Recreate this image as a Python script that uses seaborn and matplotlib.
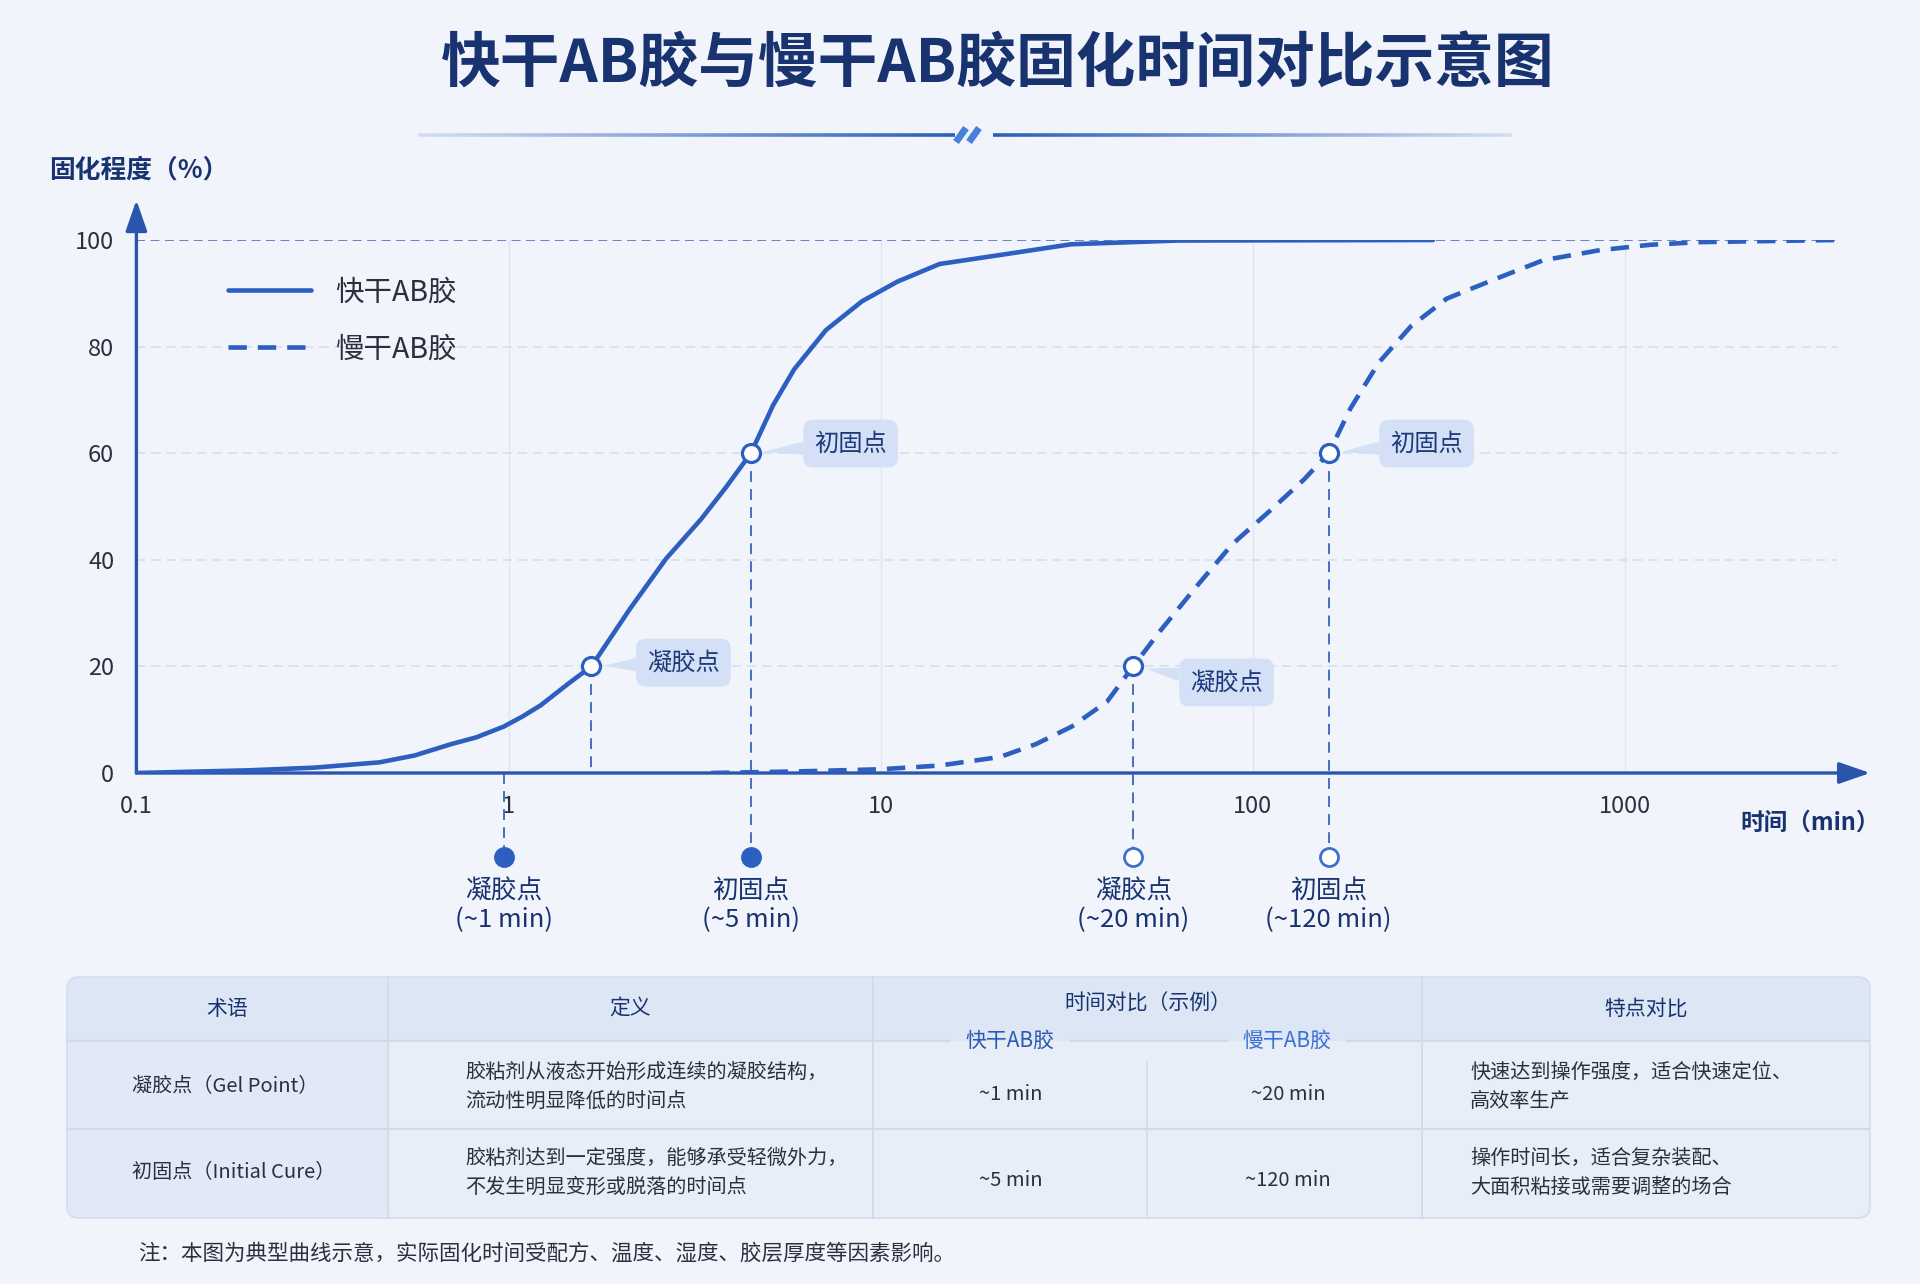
import numpy as np
import pandas as pd
import seaborn as sns
import matplotlib.pyplot as plt
from matplotlib.patches import FancyBboxPatch, Rectangle
from matplotlib.collections import LineCollection
from matplotlib.ticker import NullLocator

# ---- data ----
series_names = ['快干AB胶', '慢干AB胶']
fast_time = [0.1, 0.2, 0.3, 0.45, 0.56, 0.7, 0.82, 0.97, 1.09, 1.22, 1.45, 1.67, 2.12, 2.65,
             3.29, 3.84, 4.48, 5.14, 5.85, 7.13, 8.91, 11.1, 14.4, 21, 32.5, 63, 305]
fast_pct = [0, 0.5, 1.0, 2.0, 3.3, 5.4, 6.7, 8.7, 10.6, 12.7, 16.8, 20, 30.8, 40.2,
            47.6, 53.6, 60, 69, 75.7, 83.1, 88.5, 92.2, 95.5, 97.2, 99.2, 99.9, 100]
slow_time = [3.5, 6, 10, 14.4, 20.9, 26.1, 32.6, 40.6, 47.7, 56.6, 70.4, 88, 110, 137, 160,
             183, 218, 266, 332, 442, 603, 858, 1169, 1593, 3700]
slow_pct = [0, 0.3, 0.7, 1.4, 3.0, 5.4, 8.7, 13.4, 20, 26.8, 34.9, 42.9, 48.9, 55, 60,
            68.4, 77, 83.8, 89, 92.5, 96.2, 98.1, 99.1, 99.6, 100]

key_time = [1.67, 4.48, 47.7, 160]
key_pct = [20, 60, 20, 60]
key_labels = ['凝胶点', '初固点', '凝胶点', '初固点']
callout_time = [2.95, 8.3, 85, 293]
callout_pct = [20.7, 61.8, 17, 61.8]

axis_mark_time = [0.97, 4.48, 47.7, 160]
axis_mark_filled = [True, True, False, False]
axis_mark_text = ['凝胶点\n(~1 min)', '初固点\n(~5 min)', '凝胶点\n(~20 min)', '初固点\n(~120 min)']

x_ticks = [0.1, 1, 10, 100, 1000]
x_ticklabels = ['0.1', '1', '10', '100', '1000']
y_ticks = [0, 20, 40, 60, 80, 100]

table_header = ['术语', '定义', '时间对比（示例）', '特点对比']
table_sub = ['快干AB胶', '慢干AB胶']
table_terms = ['凝胶点（Gel Point）', '初固点（Initial Cure）']
table_defs = ['胶粘剂从液态开始形成连续的凝胶结构，\n流动性明显降低的时间点',
              '胶粘剂达到一定强度，能够承受轻微外力，\n不发生明显变形或脱落的时间点']
table_fast = ['~1 min', '~5 min']
table_slow = ['~20 min', '~120 min']
table_feat = ['快速达到操作强度，适合快速定位、\n高效率生产',
              '操作时间长，适合复杂装配、\n大面积粘接或需要调整的场合']
note = '注：本图为典型曲线示意，实际固化时间受配方、温度、湿度、胶层厚度等因素影响。'

# ---- style ----
sns.set_theme(style='white')
plt.rcParams['font.family'] = ['Noto Sans CJK SC', 'DejaVu Sans']
plt.rcParams['axes.unicode_minus'] = False

BLUE = '#2d5fc0'
NAVY = '#18336f'
DARK = '#2b2f40'
BG = '#f1f5fb'

fig = plt.figure(figsize=(19.2, 12.84), dpi=100, facecolor=BG)

# overlay axes in pixel coordinates for decorations
bg = fig.add_axes([0, 0, 1, 1], zorder=0)
bg.set_xlim(0, 1920)
bg.set_ylim(1284, 0)
bg.axis('off')

# title + decorative rule
bg.text(998, 66, '快干AB胶与慢干AB胶固化时间对比示意图', ha='center', va='center',
        fontsize=43, fontweight='bold', color=NAVY)
for x0, x1, rev in [(418, 955, False), (993, 1512, True)]:
    xs = np.linspace(x0, x1, 80)
    segs = [[(xs[i], 135), (xs[i + 1], 135)] for i in range(len(xs) - 1)]
    al = np.linspace(0.15, 1, len(segs))
    if rev:
        al = al[::-1]
    cols = [(0.17, 0.37, 0.75, a) for a in al]
    bg.add_collection(LineCollection(segs, colors=cols, linewidths=2.6))
for dx in (0, 13):
    bg.plot([956 + dx, 966 + dx], [142, 128], color='#4a80dc', lw=5, solid_capstyle='butt')

bg.text(49, 170, '固化程度（%）', ha='left', va='center', fontsize=18.5,
        fontweight='bold', color=NAVY)
bg.text(1810, 823, '时间（min）', ha='center', va='center', fontsize=17,
        fontweight='bold', color=NAVY)

# ---- main chart ----
ax = fig.add_axes([136.4 / 1920, 1 - 773 / 1284, 1700.6 / 1920, 533 / 1284], zorder=1)
ax.patch.set_visible(False)

df = pd.DataFrame({
    'time': fast_time + slow_time,
    'pct': fast_pct + slow_pct,
    'series': [series_names[0]] * len(fast_time) + [series_names[1]] * len(slow_time),
})
sns.lineplot(data=df, x='time', y='pct', hue='series', style='series',
             palette=[BLUE, BLUE], dashes={series_names[0]: '', series_names[1]: (4, 2.4)},
             linewidth=3.3, sort=False, estimator=None, legend=False, ax=ax, zorder=4)
for ln in ax.lines[:2]:
    ln.set_solid_joinstyle('round')
    ln.set_dash_joinstyle('round')
ax.set_xscale('log')
ax.set_xlim(0.1, 3715)
ax.set_ylim(0, 100)
for s in ax.spines.values():
    s.set_visible(False)

ax.set_xticks(x_ticks)
ax.set_xticklabels(x_ticklabels)
ax.xaxis.set_minor_locator(NullLocator())
ax.set_yticks(y_ticks)
ax.tick_params(axis='both', length=0, labelsize=17, labelcolor=DARK)
ax.tick_params(axis='x', pad=16)
ax.tick_params(axis='y', pad=16)
ax.set_xlabel('')
ax.set_ylabel('')

# grid
for y in y_ticks[1:-1]:
    ax.axhline(y, color='#d5dde9', lw=1.1, ls=(0, (6, 4)), zorder=1)
ax.axhline(100, color='#5a7cc0', lw=1.3, ls=(0, (5, 3)), zorder=1)
for x in x_ticks[1:] + [3715]:
    ax.axvline(x, color='#dfe5ef', lw=1.0, zorder=0)

# axes with arrows
arrow_kw = dict(arrowstyle='-|>,head_length=0.95,head_width=0.33', color='#2a55ad',
                lw=2.4, mutation_scale=20, shrinkA=0, shrinkB=0)
ax.annotate('', xy=(0.1, 107.5), xytext=(0.1, 0), xycoords='data',
            arrowprops=arrow_kw, annotation_clip=False, zorder=3)
ax.annotate('', xy=(4560, 0), xytext=(0.1, 0), xycoords='data',
            arrowprops=arrow_kw, annotation_clip=False, zorder=3)

MARK_Y = -15.8
LABEL_Y = -24.9

# dashed drop lines
for t, p in zip(key_time, key_pct):
    bottom = MARK_Y if t in axis_mark_time else 0
    ax.plot([t, t], [p, bottom], color='#3a64b8', lw=1.3, ls=(0, (6, 4)),
            clip_on=False, zorder=2)
for t in axis_mark_time:
    if t not in key_time:
        ax.plot([t, t], [0, MARK_Y], color='#3a64b8', lw=1.3, ls=(0, (6, 4)),
                clip_on=False, zorder=2)

# key points and callouts
ax.plot(key_time, key_pct, 'o', ms=13, mfc='white', mec=BLUE, mew=2.3, zorder=6, clip_on=False)
for t, p, lt, lp, lab in zip(key_time, key_pct, callout_time, callout_pct, key_labels):
    ax.annotate(lab, xy=(t, p), xytext=(lt, lp), ha='center', va='center',
                fontsize=17.5, color='#1d3a7a', zorder=7,
                bbox=dict(boxstyle='round,pad=0.45,rounding_size=0.4', fc='#d3e0f6', ec='none'),
                arrowprops=dict(arrowstyle='wedge,tail_width=0.55', fc='#d3e0f6', ec='none',
                                shrinkA=0, shrinkB=9))

# markers below axis
for t, filled, txt in zip(axis_mark_time, axis_mark_filled, axis_mark_text):
    ax.plot([t], [MARK_Y], 'o', ms=13, mfc=BLUE if filled else 'white',
            mec=BLUE if filled else '#3f70cf', mew=2.0, clip_on=False, zorder=6)
    ax.text(t, LABEL_Y, txt, ha='center', va='center', fontsize=18.5,
            color=NAVY, linespacing=1.15, clip_on=False)

ax.legend(ax.lines[:2], series_names, loc='upper left', bbox_to_anchor=(0.054, 0.93),
          frameon=False, fontsize=20.5, handlelength=2.9, handletextpad=0.85,
          labelspacing=0.95, borderpad=0, borderaxespad=0, labelcolor=DARK)

# ---- table ----
TX0, TX1 = 67, 1870
TY0, TH, TR1, TY1 = 977, 1041, 1129, 1218
col_x = [67, 388, 873, 1147, 1422, 1870]

bg.add_patch(FancyBboxPatch((TX0, TY0), TX1 - TX0, TY1 - TY0,
                            boxstyle='round,pad=0,rounding_size=12',
                            fc='#dce6f5', ec='#d3ddee', lw=1.2, zorder=1))
bg.add_patch(FancyBboxPatch((TX0 + 1, TH + 14), TX1 - TX0 - 2, TY1 - TH - 15,
                            boxstyle='round,pad=0,rounding_size=11',
                            fc='#e8eef8', ec='none', zorder=1.1))
bg.add_patch(Rectangle((TX0 + 1, TH), TX1 - TX0 - 2, 30, fc='#e8eef8', ec='none', zorder=1.1))
bg.add_patch(Rectangle((TX0 + 1, TH), col_x[1] - TX0 - 1, 30, fc='#e1e9f6', ec='none', zorder=1.2))
bg.add_patch(FancyBboxPatch((TX0 + 1, TH + 14), col_x[1] - TX0 - 1, TY1 - TH - 15,
                            boxstyle='round,pad=0,rounding_size=11',
                            fc='#e1e9f6', ec='none', zorder=1.15))

LINE = '#d0daea'
for seg in [(TX0, col_x[2]), (col_x[2], 950), (1070, 1227), (1347, col_x[4]), (col_x[4], TX1)]:
    bg.plot(seg, [TH, TH], color=LINE, lw=1.6, zorder=2)
bg.plot([TX0, TX1], [TR1, TR1], color=LINE, lw=1.6, zorder=2)
for x in (col_x[1], col_x[2], col_x[4]):
    bg.plot([x, x], [TY0, TY1], color=LINE, lw=1.3, zorder=2)
bg.plot([col_x[3], col_x[3]], [1062, TY1], color=LINE, lw=1.1, zorder=2)

HDR = dict(ha='center', va='center', fontsize=15, color=NAVY, zorder=3)
bg.text((col_x[0] + col_x[1]) / 2, 1009, table_header[0], **HDR)
bg.text((col_x[1] + col_x[2]) / 2, 1009, table_header[1], **HDR)
bg.text((col_x[2] + col_x[4]) / 2, 1004, table_header[2], **HDR)
bg.text((col_x[4] + col_x[5]) / 2, 1009, table_header[3], **HDR)
bg.text(1010, 1041, table_sub[0], ha='center', va='center', fontsize=15, color='#2b58b0', zorder=3)
bg.text(1287, 1041, table_sub[1], ha='center', va='center', fontsize=15, color='#3b70d3', zorder=3)

row_y = [1091, 1177]
for i, ry in enumerate(row_y):
    BODY = dict(va='center', fontsize=14.5, color=DARK, zorder=3, linespacing=1.5)
    bg.text(132, ry - 4, table_terms[i], ha='left', **BODY)
    bg.text(465, ry - 4, table_defs[i], ha='left', **BODY)
    bg.text(1011, ry + 3, table_fast[i], ha='center', **BODY)
    bg.text(1288, ry + 3, table_slow[i], ha='center', **BODY)
    bg.text(1470, ry - 4, table_feat[i], ha='left', **BODY)

bg.text(138, 1254, note, ha='left', va='center', fontsize=15.5, color=DARK)

fig.savefig('out.png', dpi=100, facecolor=fig.get_facecolor())
